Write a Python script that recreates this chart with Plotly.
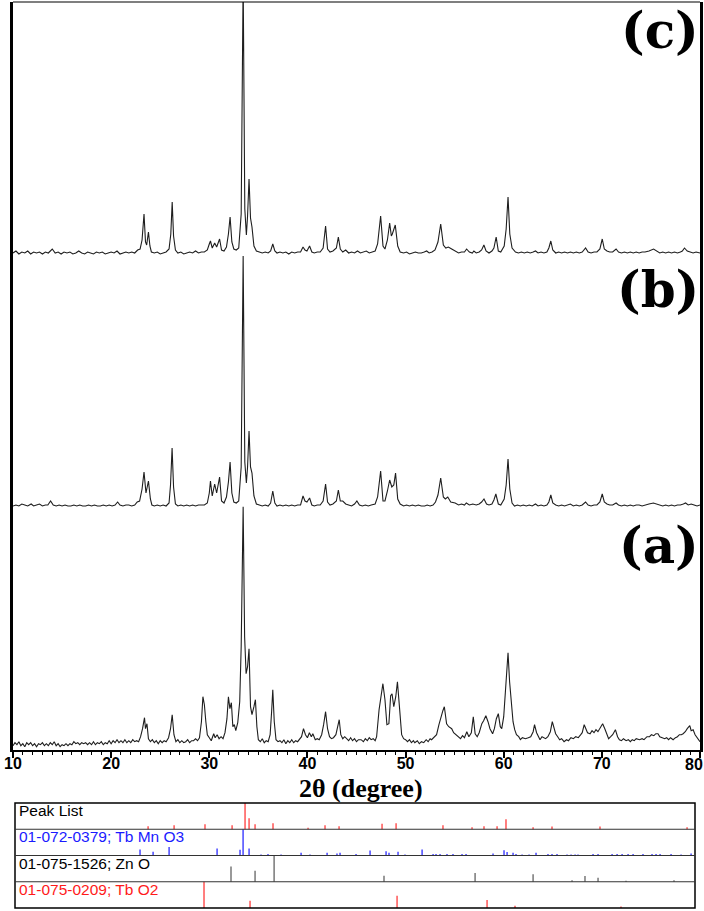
import plotly.graph_objects as go

W, H = 704, 911

# ---------------- data: XRD patterns (2theta in degrees, intensity in a.u. above each pattern's own baseline)
C_POINTS = [(10.0,1),(10.3,3),(10.6,0),(10.9,2),(11.2,1),(11.5,3),(11.8,0),(12.1,2),(12.4,1),(12.7,2),(13.0,0),(13.3,2),(13.6,1),(14.0,5),(14.3,1),(14.6,2),(14.9,0),(15.2,2),(15.5,1),(15.8,2),(16.1,0),(16.4,1),(16.7,3),(17.0,1),(17.3,0),(17.6,2),(17.9,1),(18.2,0),(18.5,2),(18.8,1),(19.1,2),(19.4,0),(19.7,1),(20.0,2),(20.3,1),(20.6,3),(20.9,0),(21.2,1),(21.5,2),(21.8,1),(22.1,2),(22.4,1),(22.7,4),(22.95,5),
(23.15,14),(23.35,40),(23.5,12),(23.62,9),(23.8,22),(23.95,8),(24.1,2),(24.4,1),(24.7,2),(25.0,0),(25.3,1),(25.6,2),(25.9,5),(26.08,20),(26.22,52),(26.36,18),(26.55,4),(26.8,1),(27.1,2),(27.4,0),(27.7,1),(28.0,2),(28.3,1),(28.6,3),(28.9,1),(29.2,2),(29.5,2),(29.8,4),(30.0,10),(30.12,13),(30.3,6),(30.55,11),(30.75,7),(31.05,15),(31.25,4),(31.5,3),(31.75,7),(31.95,20),(32.12,37),(32.3,12),(32.5,5),(32.75,4),(33.0,6),(33.25,40),(33.45,275),(33.62,45),(33.78,19),(33.9,38),(34.05,75),(34.2,36),(34.35,27),(34.55,8),(34.8,3),(35.1,2),(35.4,1),(35.7,2),(36.0,1),(36.25,3),(36.47,10),(36.68,3),(36.9,1),(37.2,2),(37.5,1),(37.8,2),(38.1,0),(38.4,2),(38.7,1),(39.0,2),(39.3,2),(39.55,7),(39.75,4),(39.95,3),(40.22,8),(40.45,2),(40.7,1),(41.0,2),(41.3,2),(41.6,6),(41.85,28),(42.05,5),(42.3,2),(42.6,3),(42.95,6),(43.15,17),(43.35,5),(43.6,2),(43.9,4),(44.2,1),(44.5,2),(44.8,1),(45.1,3),(45.4,1),(45.7,2),(46.0,3),(46.3,1),(46.6,2),(46.9,3),(47.15,10),(47.46,38),(47.7,8),(47.9,5),(48.15,14),(48.38,31),(48.55,18),(48.65,20),(48.95,29),(49.2,8),(49.45,2),(49.8,1),(50.1,2),(50.4,0),(50.7,1),(51.0,2),(51.3,1),(51.6,1),(51.9,2),(52.15,3),(52.4,1),(52.7,2),(53.0,4),(53.3,12),(53.58,30),(53.85,9),(54.1,6),(54.36,7),(54.7,5),(55.05,3),(55.4,1),(55.7,2),(56.0,2),(56.22,5),(56.5,2),(56.8,1),(56.96,3),(57.2,1),(57.5,2),(57.75,4),(57.98,9),(58.2,3),(58.5,1),(58.8,3),(59.0,6),(59.23,17),(59.45,3),(59.7,2),(60.05,8),(60.25,25),(60.44,57),(60.62,20),(60.85,6),(61.2,2),(61.5,1),(61.8,2),(62.1,1),(62.4,2),(62.7,1),(63.0,2),(63.24,3),(63.5,1),(63.8,2),(64.1,1),(64.4,2),(64.6,6),(64.8,13),(65.0,4),(65.3,1),(65.6,2),(65.9,1),(66.2,2),(66.5,1),(66.8,2),(67.1,1),(67.4,2),(67.7,1),(68.0,2),(68.34,6),(68.6,2),(68.9,1),(69.2,2),(69.5,2),(69.8,5),(70.04,15),(70.25,5),(70.52,3),(70.8,2),(71.1,2),(71.45,5),(71.7,2),(72.0,1),(72.3,2),(72.6,1),(72.9,2),(73.2,1),(73.5,2),(73.8,1),(74.1,2),(74.4,2),(74.8,3),(75.27,5),(75.6,3),(75.9,1),(76.2,2),(76.5,1),(76.8,2),(77.1,1),(77.4,2),(77.7,1),(78.0,2),(78.2,3),(78.42,6),(78.7,3),(79.0,2),(79.3,1),(79.6,2),(80.0,1)]

B_POINTS = [(10.0,1),(10.3,2),(10.6,1),(10.9,3),(11.2,2),(11.5,1),(11.85,3),(12.1,1),(12.4,2),(12.7,3),(13.0,1),(13.3,2),(13.55,2),(13.83,6),(14.1,2),(14.4,1),(14.7,2),(15.0,1),(15.3,2),(15.6,1),(15.9,1),(16.2,2),(16.5,1),(16.8,2),(17.1,1),(17.4,1),(17.7,2),(18.0,1),(18.3,2),(18.6,1),(18.9,1),(19.2,2),(19.5,1),(19.8,2),(20.1,1),(20.4,2),(20.66,5),(20.9,2),(21.2,1),(21.5,2),(21.8,2),(22.1,1),(22.4,2),(22.66,5),(22.9,6),
(23.15,18),(23.35,35),(23.55,14),(23.8,26),(24.0,8),(24.15,2),(24.4,1),(24.7,2),(25.0,1),(25.3,2),(25.6,1),(25.9,4),(26.05,22),(26.21,59),(26.36,20),(26.55,3),(26.8,1),(27.1,2),(27.4,1),(27.7,2),(28.0,1),(28.3,2),(28.6,1),(28.9,2),(29.2,2),(29.5,2),(29.8,4),(30.0,14),(30.12,26),(30.3,11),(30.55,23),(30.75,14),(31.05,30),(31.25,6),(31.5,4),(31.75,10),(31.95,25),(32.12,45),(32.3,14),(32.5,5),(32.75,4),(33.0,6),(33.25,40),(33.45,251),(33.62,45),(33.78,24),(33.9,40),(34.05,76),(34.2,40),(34.35,34),(34.55,11),(34.8,3),(35.1,2),(35.4,1),(35.7,2),(36.0,1),(36.25,4),(36.47,16),(36.68,4),(36.9,1),(37.2,2),(37.5,1),(37.8,2),(38.1,1),(38.4,2),(38.7,1),(39.0,2),(39.3,2),(39.55,11),(39.75,6),(39.95,5),(40.22,9),(40.45,2),(40.7,1),(41.0,2),(41.3,2),(41.6,6),(41.85,23),(42.05,5),(42.3,2),(42.6,3),(42.95,6),(43.15,17),(43.35,6),(43.6,6),(43.9,3),(44.2,2),(44.5,1),(44.8,3),(45.04,6),(45.3,2),(45.6,1),(45.9,2),(46.2,1),(46.5,2),(46.9,3),(47.15,10),(47.46,36),(47.7,6),(47.9,6),(48.15,16),(48.38,27),(48.6,20),(48.8,22),(48.98,34),(49.2,8),(49.45,3),(49.8,1),(50.1,2),(50.4,1),(50.7,2),(51.0,1),(51.3,2),(51.6,1),(51.95,1),(52.2,2),(52.5,1),(52.8,2),(53.05,5),(53.3,12),(53.58,29),(53.85,10),(54.05,8),(54.3,10),(54.6,5),(55.05,4),(55.4,2),(55.7,3),(56.0,2),(56.19,4),(56.5,2),(56.85,3),(57.2,2),(57.5,3),(57.75,5),(57.99,8),(58.25,3),(58.5,2),(58.8,3),(59.0,7),(59.2,13),(59.45,3),(59.7,2),(60.05,8),(60.25,22),(60.44,48),(60.62,18),(60.85,4),(61.1,1),(61.4,2),(61.7,1),(62.0,2),(62.3,1),(62.6,2),(62.9,1),(63.24,3),(63.5,1),(63.8,2),(64.1,1),(64.4,2),(64.6,5),(64.8,12),(65.0,4),(65.3,2),(65.6,1),(65.9,2),(66.2,1),(66.5,2),(66.79,3),(67.1,1),(67.4,2),(67.7,1),(68.0,2),(68.34,5),(68.6,2),(68.9,1),(69.2,2),(69.5,2),(69.8,5),(70.04,13),(70.25,5),(70.52,3),(70.8,2),(71.1,2),(71.45,4),(71.7,2),(72.0,1),(72.3,2),(72.6,1),(72.9,2),(73.2,1),(73.5,2),(73.8,2),(74.1,1),(74.4,2),(74.8,3),(75.25,4),(75.6,3),(75.9,2),(76.2,1),(76.5,2),(76.8,1),(77.1,2),(77.4,1),(77.7,2),(78.0,2),(78.3,3),(78.53,4),(78.8,2),(79.1,3),(79.4,2),(79.7,1),(80.0,2)]

A_POINTS = [(10.0,1),(10.2,4),(10.4,2),(10.6,5),(10.8,1),(11.0,3),(11.2,0),(11.4,4),(11.6,2),(11.8,4),(12.0,1),(12.2,3),(12.4,0),(12.6,3),(12.8,2),(13.0,4),(13.2,1),(13.4,3),(13.6,1),(13.8,4),(14.0,2),(14.2,5),(14.4,1),(14.6,3),(14.8,0),(15.0,2),(15.2,1),(15.4,3),(15.6,1),(15.8,3),(16.0,2),(16.2,5),(16.4,3),(16.6,4),(16.8,2),(17.0,4),(17.2,3),(17.4,4),(17.6,2),(17.8,4),(18.0,2),(18.2,5),(18.4,2),(18.6,4),(18.8,3),(19.0,5),(19.2,2),(19.4,4),(19.6,3),(19.8,6),(20.0,3),(20.2,6),(20.4,4),(20.6,7),(20.8,4),(21.0,6),(21.2,4),(21.4,7),(21.6,4),(21.8,6),(22.0,4),(22.2,7),(22.4,5),(22.6,6),(22.8,5),(23.0,10),
(23.2,18),(23.4,29),(23.5,18),(23.65,23),(23.8,8),(24.0,5),(24.2,7),(24.4,4),(24.6,6),(24.8,3),(25.0,6),(25.2,4),(25.4,6),(25.6,5),(25.85,9),(26.05,18),(26.22,32),(26.4,12),(26.6,5),(26.8,7),(27.0,4),(27.2,6),(27.4,4),(27.6,5),(27.8,7),(28.0,4),(28.2,6),(28.4,6),(28.6,8),(28.8,6),(29.0,9),(29.2,25),(29.35,50),(29.5,42),(29.65,25),(29.8,12),(30.0,9),(30.2,6),(30.45,13),(30.6,9),(30.8,12),(31.0,8),(31.2,10),(31.4,8),(31.6,14),(31.8,28),(31.95,50),(32.1,38),(32.25,44),(32.4,20),(32.55,22),(32.7,16),(32.9,24),(33.1,45),(33.25,100),(33.45,240),(33.6,110),(33.75,73),(33.9,80),(34.05,98),(34.2,40),(34.35,32),(34.55,40),(34.7,47),(34.85,20),(35.0,7),(35.2,5),(35.4,8),(35.6,4),(35.8,6),(36.0,5),(36.2,12),(36.35,35),(36.47,57),(36.62,25),(36.8,7),(37.0,5),(37.2,6),(37.4,4),(37.6,7),(37.8,3),(38.0,6),(38.2,4),(38.4,7),(38.6,4),(38.8,6),(39.0,5),(39.2,8),(39.4,10),(39.6,18),(39.8,12),(40.0,9),(40.2,14),(40.4,10),(40.55,13),(40.8,7),(41.0,8),(41.2,7),(41.45,12),(41.65,22),(41.85,35),(42.05,18),(42.25,10),(42.45,8),(42.65,9),(42.9,12),(43.1,20),(43.24,27),(43.4,12),(43.6,8),(43.8,10),(44.0,8),(44.2,6),(44.4,9),(44.6,6),(44.8,8),(45.0,5),(45.2,7),(45.47,7),(45.7,5),(45.9,8),(46.1,6),(46.3,9),(46.49,7),(46.7,8),(46.9,6),(47.05,10),(47.3,37),(47.5,50),(47.69,63),(47.9,47),(48.1,22),(48.3,23),(48.48,51),(48.62,53),(48.8,40),(49.0,50),(49.17,65),(49.4,37),(49.6,12),(49.8,8),(50.0,7),(50.2,5),(50.4,7),(50.6,4),(50.8,6),(50.94,4),(51.2,6),(51.4,3),(51.62,5),(51.85,4),(52.1,7),(52.3,5),(52.5,8),(52.65,7),(52.9,9),(53.16,12),(53.4,22),(53.6,30),(53.8,36),(53.95,40),(54.18,23),(54.4,20),(54.7,18),(54.9,14),(55.1,12),(55.38,10),(55.6,8),(55.8,11),(56.0,9),(56.24,15),(56.45,10),(56.7,14),(56.9,30),(57.09,13),(57.3,10),(57.5,14),(57.77,23),(57.95,26),(58.18,31),(58.4,25),(58.6,18),(58.87,13),(59.05,18),(59.25,28),(59.45,33),(59.65,20),(59.8,18),(60.0,30),(60.15,50),(60.3,80),(60.44,94),(60.6,65),(60.78,47),(60.95,25),(61.12,17),(61.3,12),(61.53,10),(61.7,7),(61.9,9),(62.22,8),(62.5,9),(62.75,10),(63.0,15),(63.14,22),(63.35,14),(63.52,10),(63.7,7),(63.9,10),(64.1,9),(64.27,8),(64.5,10),(64.75,15),(64.95,25),(65.1,20),(65.29,13),(65.5,10),(65.7,7),(65.9,8),(66.15,5),(66.4,7),(66.6,6),(66.85,9),(67.1,8),(67.34,10),(67.6,9),(67.85,12),(68.0,14),(68.2,22),(68.4,17),(68.54,14),(68.8,13),(69.0,16),(69.2,14),(69.4,17),(69.6,15),(69.85,19),(70.08,23),(70.3,18),(70.5,12),(70.69,8),(70.9,10),(71.1,12),(71.38,17),(71.6,10),(71.79,7),(72.0,6),(72.2,8),(72.47,6),(72.7,7),(72.9,5),(73.1,7),(73.3,6),(73.5,8),(73.84,7),(74.1,8),(74.3,7),(74.6,10),(74.86,10),(75.05,12),(75.3,11),(75.5,13),(75.72,13),(75.9,10),(76.1,9),(76.4,8),(76.6,9),(76.8,7),(77.0,9),(77.26,7),(77.5,9),(77.7,10),(77.9,12),(78.1,12),(78.28,13),(78.5,15),(78.7,18),(78.96,21),(79.1,16),(79.3,17),(79.5,12),(79.65,10),(79.82,7),(80.0,5)]

PATTERN_LABELS = ["(a)", "(b)", "(c)"]
X_TICKS = [10, 20, 30, 40, 50, 60, 70, 80]

# ---------------- data: reference stick patterns (position in 2theta, relative height 0..1 of its row)
PEAKLIST_POS = [23.76,26.41,29.56,32.32,33.64,34.05,34.66,36.49,40.06,41.79,43.22,47.6,49.03,53.81,56.77,57.99,59.32,60.23,62.99,64.92,69.81,78.68]
PEAKLIST_H   = [0.11,0.15,0.19,0.15,1.0,0.42,0.19,0.23,0.06,0.15,0.11,0.21,0.23,0.15,0.08,0.11,0.11,0.38,0.08,0.10,0.10,0.08]

TBMNO3_POS = [22.94,24.27,25.9,30.79,33.13,33.44,34.05,35.27,35.98,37.31,39.35,40.26,42.0,43.01,43.32,44.95,46.38,48.01,48.31,49.23,49.94,51.68,52.8,53.1,53.51,54.22,54.83,55.75,56.16,58.91,60.03,60.34,60.95,61.25,61.87,62.58,63.29,64.51,64.92,65.43,66.45,66.86,67.27,67.57,69.1,69.61,71.04,71.55,72.06,72.67,73.18,74.19,75.11,75.52,75.93,77.05,78.07,79.09]
TBMNO3_H   = [0.23,0.14,0.32,0.27,0.22,1.0,0.27,0.04,0.06,0.04,0.10,0.04,0.10,0.08,0.10,0.06,0.19,0.16,0.10,0.14,0.04,0.23,0.06,0.06,0.06,0.06,0.06,0.06,0.06,0.08,0.20,0.13,0.10,0.06,0.04,0.04,0.10,0.06,0.06,0.06,0.04,0.04,0.04,0.04,0.06,0.06,0.06,0.06,0.06,0.06,0.06,0.06,0.06,0.06,0.06,0.06,0.04,0.08]

ZNO_POS = [32.21,34.66,36.6,47.8,57.08,62.99,66.96,68.28,69.61,72.46,77.35]
ZNO_H   = [0.58,0.42,1.0,0.23,0.33,0.29,0.06,0.22,0.15,0.04,0.06]

TBO2_POS = [29.46,34.15,49.13,58.3,61.15,71.95]
TBO2_H   = [1.0,0.28,0.47,0.30,0.09,0.06]

REF_ROWS = [
    ("Peak List", PEAKLIST_POS, PEAKLIST_H),
    ("01-072-0379; Tb Mn O3", TBMNO3_POS, TBMNO3_H),
    ("01-075-1526; Zn O", ZNO_POS, ZNO_H),
    ("01-075-0209; Tb O2", TBO2_POS, TBO2_H),
]

# ---------------- styling / layout constants
OFFSETS = {"(a)": 3.3, "(b)": 243.0, "(c)": 496.0}
ROW_COLORS = ["#ff2a2a", "#1a1aff", "#555555", "#ff2a2a"]
LABEL_COLORS = ["#000000", "#1a1aff", "#000000", "#ff1a1a"]
TICK_FONT = dict(family="Liberation Sans, Arial", size=16, color="black", weight="bold")

def px_x(p):
    return p / W

def px_y(p):
    return 1 - p / H

fig = go.Figure()

for lab, pts in zip(PATTERN_LABELS, [A_POINTS, B_POINTS, C_POINTS]):
    xs = [p[0] for p in pts]
    ys = [p[1] + OFFSETS[lab] for p in pts]
    fig.add_trace(go.Scatter(x=xs, y=ys, mode="lines",
                             line=dict(color="#1e1e1e", width=1.1),
                             showlegend=False, hoverinfo="skip",
                             xaxis="x", yaxis="y"))

# reference stick rows (row 0 at top)
for i, (name, pos, hts) in enumerate(REF_ROWS):
    base = 3 - i
    xs, ys = [], []
    for p, h in zip(pos, hts):
        xs += [p, p, None]
        ys += [base, base + h, None]
    fig.add_trace(go.Scatter(x=xs, y=ys, mode="lines",
                             line=dict(color=ROW_COLORS[i], width=1.2),
                             showlegend=False, hoverinfo="skip",
                             xaxis="x2", yaxis="y2"))

main_x_dom = [px_x(13), px_x(700)]
main_y_dom = [px_y(750), px_y(2)]

# last tick label is placed flush with the right edge (as in the reference)
tick_text = [str(t) for t in X_TICKS[:-1]] + [""]

fig.update_layout(
    width=W, height=H,
    margin=dict(l=0, r=0, t=0, b=0, autoexpand=False),
    paper_bgcolor="white", plot_bgcolor="white",
    xaxis=dict(domain=main_x_dom, range=[10, 80], anchor="y", automargin=False,
               tickmode="array", tickvals=X_TICKS, ticktext=tick_text,
               ticks="outside", ticklen=6, tickwidth=1.5, tickcolor="black",
               minor=dict(ticks="outside", dtick=1, ticklen=3, tickwidth=1, tickcolor="black"),
               showline=True, linecolor="black", linewidth=2,
               showgrid=False, zeroline=False,
               ticklabeloverflow="allow", ticklabelstandoff=-8,
               tickfont=TICK_FONT),
    yaxis=dict(domain=main_y_dom, range=[0, 748], anchor="x", automargin=False,
               showticklabels=False, ticks="", showgrid=False, zeroline=False,
               showline=True, linecolor="black", linewidth=3, mirror=True),
    xaxis2=dict(domain=[px_x(15), px_x(695)], range=[10.2, 79.49], anchor="y2",
                visible=False),
    yaxis2=dict(domain=[px_y(908), px_y(803)], range=[0, 4], anchor="x2",
                visible=False),
)

fig.add_annotation(text=str(X_TICKS[-1]), xref="paper", yref="paper",
                   x=1.0, y=px_y(764), xanchor="right", yanchor="middle",
                   showarrow=False, borderpad=0, font=TICK_FONT)

# top border of main frame
fig.add_shape(type="line", xref="x domain", yref="y domain", x0=0, x1=1, y0=1, y1=1,
              line=dict(color="black", width=1.2))

# reference panel frame and row separators
fig.add_shape(type="rect", xref="x2 domain", yref="y2 domain", x0=0, x1=1, y0=0, y1=1,
              line=dict(color="black", width=1.5))
for yv in [1, 2, 3]:
    fig.add_shape(type="line", xref="x2 domain", yref="y2", x0=0, x1=1, y0=yv, y1=yv,
                  line=dict(color="#333333", width=1))

# pattern labels
label_y = {"(c)": 31, "(b)": 290, "(a)": 545}
for lab in PATTERN_LABELS:
    fig.add_annotation(text=lab, xref="paper", yref="paper",
                       x=px_x(700), y=px_y(label_y[lab]), xanchor="right", yanchor="middle",
                       showarrow=False, borderpad=0,
                       font=dict(family="DejaVu Serif", size=50,
                                 color="black", weight="bold"))

# axis title
fig.add_annotation(text="2θ (degree)", xref="paper", yref="paper",
                   x=px_x(361), y=px_y(788), xanchor="center", yanchor="middle",
                   showarrow=False, borderpad=0,
                   font=dict(family="Liberation Serif, Times New Roman", size=26,
                             color="black", weight="bold"))

# row labels of reference panel
row_label_y = [810, 836, 863, 889]
for i, (name, _, _) in enumerate(REF_ROWS):
    fig.add_annotation(text=name, xref="paper", yref="paper",
                       x=px_x(18), y=px_y(row_label_y[i]), xanchor="left", yanchor="middle",
                       showarrow=False, borderpad=0,
                       font=dict(family="Liberation Sans, Arial", size=15.5, color=LABEL_COLORS[i]))

fig.write_html("out.html",
               config={"displayModeBar": False},
               post_script="document.body.style.margin='0';document.body.style.padding='0';"
                           "document.documentElement.style.overflow='hidden';")
